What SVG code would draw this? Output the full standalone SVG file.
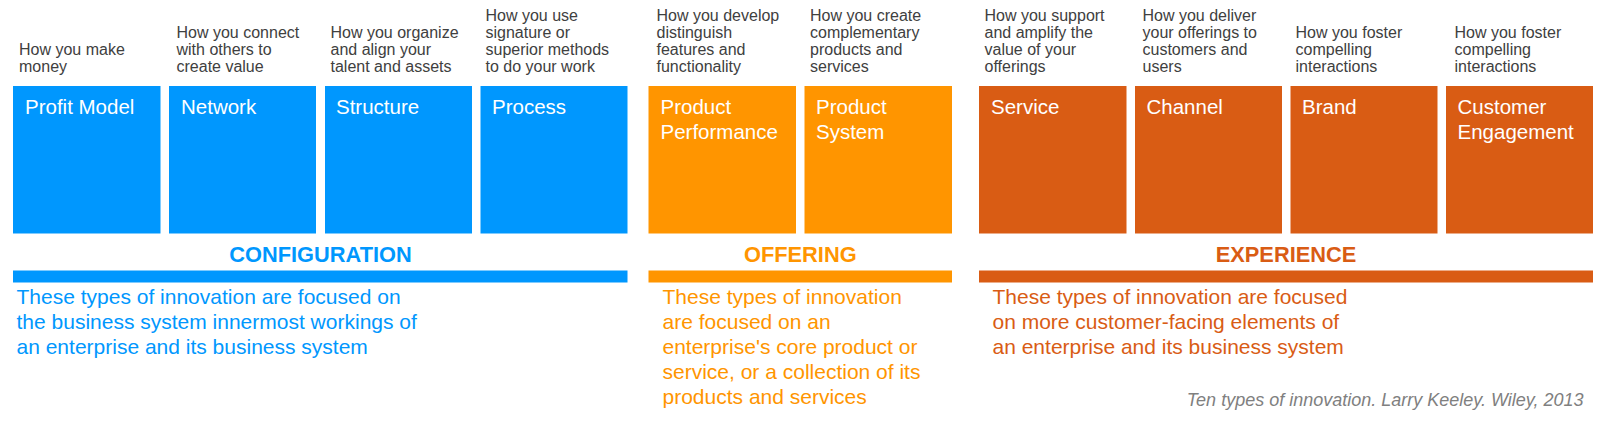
<svg xmlns="http://www.w3.org/2000/svg" width="1600" height="423" viewBox="0 0 1600 423">
<style>
text{font-family:"Liberation Sans",Arial,sans-serif}
.d{font-size:16px;fill:#404040}
.l{font-size:20.5px;fill:#ffffff}
.h{font-size:21.8px;font-weight:bold;text-anchor:middle}
.p{font-size:21px}
.b{fill:#0097fe}
.o{fill:#ff9500}
.r{fill:#d95c14}
.c{font-size:18px;font-style:italic;fill:#808080;text-anchor:end}
</style>
<rect width="1600" height="423" fill="#ffffff"/>
<g id="profit-model">
<text class="d" x="19" y="55">How you make</text><text class="d" x="19" y="72">money</text>
<rect class="b" x="13" y="86" width="147.5" height="147.5"/>
<text class="l" x="25" y="114">Profit Model</text>
</g>
<g id="network">
<text class="d" x="176.5" y="38">How you connect</text><text class="d" x="176.5" y="55">with others to</text><text class="d" x="176.5" y="72">create value</text>
<rect class="b" x="169" y="86" width="147" height="147.5"/>
<text class="l" x="181" y="114">Network</text>
</g>
<g id="structure">
<text class="d" x="330.5" y="38">How you organize</text><text class="d" x="330.5" y="55">and align your</text><text class="d" x="330.5" y="72">talent and assets</text>
<rect class="b" x="325" y="86" width="147" height="147.5"/>
<text class="l" x="336" y="114">Structure</text>
</g>
<g id="process">
<text class="d" x="485.5" y="21">How you use</text><text class="d" x="485.5" y="38">signature or</text><text class="d" x="485.5" y="55">superior methods</text><text class="d" x="485.5" y="72">to do your work</text>
<rect class="b" x="480.5" y="86" width="147" height="147.5"/>
<text class="l" x="492" y="114">Process</text>
</g>
<g id="product-performance">
<text class="d" x="656.5" y="21">How you develop</text><text class="d" x="656.5" y="38">distinguish</text><text class="d" x="656.5" y="55">features and</text><text class="d" x="656.5" y="72">functionality</text>
<rect class="o" x="648.5" y="86" width="147.5" height="147.5"/>
<text class="l" x="660.5" y="113.5">Product</text><text class="l" x="660.5" y="138.5">Performance</text>
</g>
<g id="product-system">
<text class="d" x="810" y="21">How you create</text><text class="d" x="810" y="38">complementary</text><text class="d" x="810" y="55">products and</text><text class="d" x="810" y="72">services</text>
<rect class="o" x="804.5" y="86" width="147.5" height="147.5"/>
<text class="l" x="816" y="113.5">Product</text><text class="l" x="816" y="138.5">System</text>
</g>
<g id="service">
<text class="d" x="984.5" y="21">How you support</text><text class="d" x="984.5" y="38">and amplify the</text><text class="d" x="984.5" y="55">value of your</text><text class="d" x="984.5" y="72">offerings</text>
<rect class="r" x="979" y="86" width="147.5" height="147.5"/>
<text class="l" x="991" y="114">Service</text>
</g>
<g id="channel">
<text class="d" x="1142.5" y="21">How you deliver</text><text class="d" x="1142.5" y="38">your offerings to</text><text class="d" x="1142.5" y="55">customers and</text><text class="d" x="1142.5" y="72">users</text>
<rect class="r" x="1135" y="86" width="147" height="147.5"/>
<text class="l" x="1146.5" y="114">Channel</text>
</g>
<g id="brand">
<text class="d" x="1295.5" y="38">How you foster</text><text class="d" x="1295.5" y="55">compelling</text><text class="d" x="1295.5" y="72">interactions</text>
<rect class="r" x="1290.5" y="86" width="147" height="147.5"/>
<text class="l" x="1302" y="114">Brand</text>
</g>
<g id="customer-engagement">
<text class="d" x="1454.5" y="38">How you foster</text><text class="d" x="1454.5" y="55">compelling</text><text class="d" x="1454.5" y="72">interactions</text>
<rect class="r" x="1446" y="86" width="147" height="147.5"/>
<text class="l" x="1457.5" y="113.5">Customer</text><text class="l" x="1457.5" y="138.5">Engagement</text>
</g>
<g id="configuration">
<text class="h b" x="320.5" y="261.5">CONFIGURATION</text>
<rect class="b" x="13" y="270.5" width="614.5" height="12"/>
<text class="p b" x="16.5" y="304">These types of innovation are focused on</text>
<text class="p b" x="16.5" y="329">the business system innermost workings of</text>
<text class="p b" x="16.5" y="354">an enterprise and its business system</text>
</g>
<g id="offering">
<text class="h o" x="800.3" y="261.5">OFFERING</text>
<rect class="o" x="648.5" y="270.5" width="303.5" height="12"/>
<text class="p o" x="662.5" y="304">These types of innovation</text>
<text class="p o" x="662.5" y="329">are focused on an</text>
<text class="p o" x="662.5" y="354">enterprise's core product or</text>
<text class="p o" x="662.5" y="379">service, or a collection of its</text>
<text class="p o" x="662.5" y="404">products and services</text>
</g>
<g id="experience">
<text class="h r" x="1286" y="261.5">EXPERIENCE</text>
<rect class="r" x="979" y="270.5" width="614" height="12"/>
<text class="p r" x="992.5" y="304">These types of innovation are focused</text>
<text class="p r" x="992.5" y="329">on more customer-facing elements of</text>
<text class="p r" x="992.5" y="354">an enterprise and its business system</text>
</g>
<g id="connectors"></g>
<text class="c" x="1583.5" y="405.5">Ten types of innovation. Larry Keeley. Wiley, 2013</text>
</svg>
